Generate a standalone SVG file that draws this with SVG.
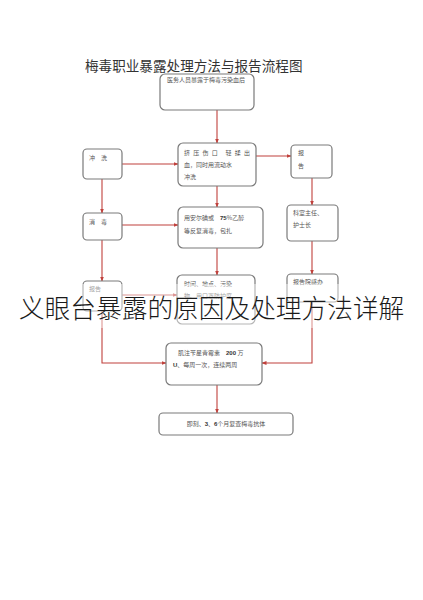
<svg xmlns="http://www.w3.org/2000/svg" width="423" height="600" viewBox="0 0 423 600">
<style>
.box{fill:#fff;stroke:#7a7a7a;stroke-width:1.2}
.t{font-family:"Noto Sans CJK SC","Liberation Serif",serif;font-size:6px;fill:#555}
.n{font-family:"Liberation Sans",sans-serif;font-weight:bold;fill:#333}
.c{fill:none;stroke:#c0413c;stroke-width:1.1}
</style>
<defs>
<marker id="ah" viewBox="0 0 10 10" refX="9" refY="5" markerWidth="5" markerHeight="5" markerUnits="userSpaceOnUse" orient="auto">
<path d="M0,1 L10,5 L0,9 z" fill="#c0413c"/>
</marker>
</defs>
<rect width="423" height="600" fill="#fff"/>
<text x="85" y="71" font-family="Noto Sans CJK SC, sans-serif" font-size="13.6" fill="#333">梅毒职业暴露处理方法与报告流程图</text>

<g id="connectors">
<path class="c" d="M217,110 V143" marker-end="url(#ah)"/>
<path class="c" d="M122,164 H178" marker-end="url(#ah)"/>
<path class="c" d="M256,156 H291" marker-end="url(#ah)"/>
<path class="c" d="M312,178 V205" marker-end="url(#ah)"/>
<path class="c" d="M312,241 V274" marker-end="url(#ah)"/>
<path class="c" d="M312,302 V363 H262" marker-end="url(#ah)"/>
<path class="c" d="M102,179 V213" marker-end="url(#ah)"/>
<path class="c" d="M122,225 H178" marker-end="url(#ah)"/>
<path class="c" d="M217,186 V207" marker-end="url(#ah)"/>
<path class="c" d="M102,240 V281" marker-end="url(#ah)"/>
<path class="c" d="M122,295 H177" marker-end="url(#ah)"/>
<path class="c" d="M217,248 V275" marker-end="url(#ah)"/>
<path class="c" d="M102,311 V363 H166" marker-end="url(#ah)"/>
<path class="c" d="M217,385 V413" marker-end="url(#ah)"/>
</g>

<g id="n1"><rect class="box" x="160" y="74" width="94" height="36" rx="5"/><text class="t" x="167" y="82" font-size="5.6">医务人员暴露于梅毒污染血后</text></g>
<g id="n2"><rect class="box" x="178" y="143" width="78" height="43" rx="5"/>
<text class="t" x="184" y="155" textLength="66" lengthAdjust="spacing">挤压伤口 轻揉出</text>
<text class="t" x="184" y="167">血，同时用流动水</text>
<text class="t" x="184" y="179">冲洗</text></g>
<g id="n3"><rect class="box" x="83" y="149" width="39" height="30" rx="4"/><text class="t" x="89" y="160">冲　洗</text></g>
<g id="n4"><rect class="box" x="291" y="145" width="41" height="33" rx="4"/><text class="t" x="298" y="155">报</text><text class="t" x="298" y="168">告</text></g>
<g id="n5"><rect class="box" x="287" y="205" width="51" height="36" rx="4"/><text class="t" x="293" y="215">科室主任、</text><text class="t" x="293" y="227">护士长</text></g>
<g id="n6"><rect class="box" x="287" y="274" width="51" height="28" rx="4"/><text class="t" x="293" y="284">报告院感办</text></g>
<g id="n7"><rect class="box" x="83" y="213" width="39" height="27" rx="4"/><text class="t" x="89" y="224">消　毒</text></g>
<g id="n8"><rect class="box" x="178" y="207" width="85" height="41" rx="5"/>
<text class="t" x="184" y="220">用安尔碘或　<tspan class="n">75</tspan>%乙醇</text>
<text class="t" x="184" y="233">等反复消毒，包扎</text></g>
<g id="n9"><rect class="box" x="83" y="281" width="39" height="30" rx="4"/><text class="t" x="89" y="291">报告</text></g>
<g id="n10"><rect class="box" x="177" y="275" width="78" height="49" rx="5"/>
<text class="t" x="184" y="286">时间、地点、污染</text>
<text class="t" x="184" y="298">物、用口罩防护度</text></g>
<g id="n11"><rect class="box" x="166" y="343" width="96" height="42" rx="5"/>
<text class="t" x="178" y="355">肌注苄星青霉素　<tspan class="n">200</tspan> 万</text>
<text class="t" x="173" y="367"><tspan class="n">U</tspan>、每周一次，连续两周</text></g>
<g id="n12"><rect class="box" x="159" y="413" width="134" height="22" rx="4"/>
<text class="t" x="226" y="426" text-anchor="middle">即刻、<tspan class="n">3</tspan>、<tspan class="n">6</tspan>个月复查梅毒抗体</text></g>

<rect x="0" y="284" width="423" height="44" fill="#fff" opacity="0.45"/>
<text x="19" y="318" font-family="Noto Sans CJK SC, sans-serif" font-weight="300" font-size="25.7" fill="#1a1a1a">义眼台暴露的原因及处理方法详解</text>
</svg>
